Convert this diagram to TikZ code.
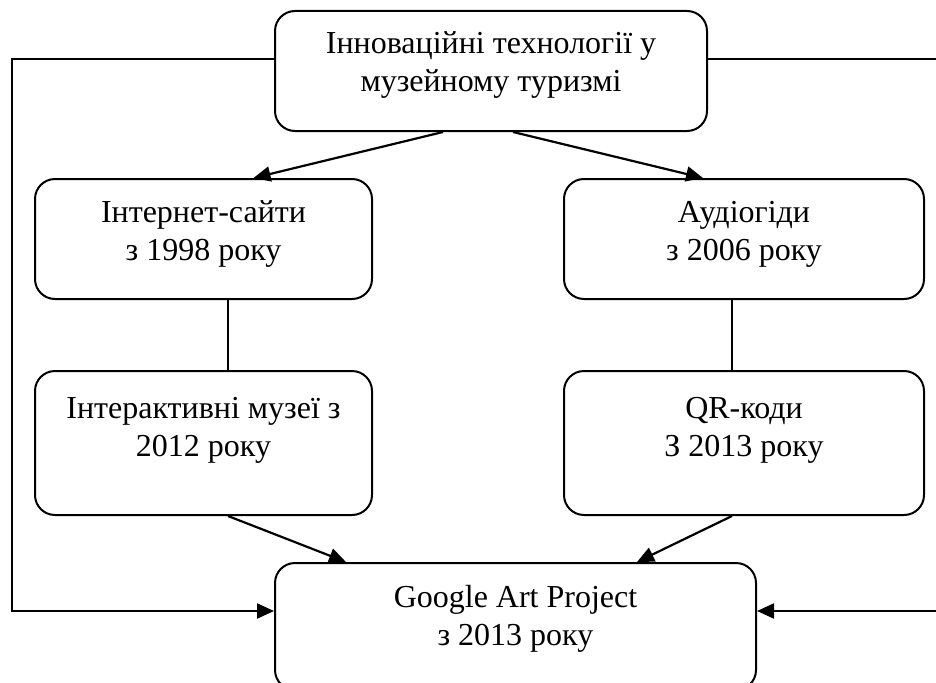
\documentclass[tikz,border=0pt]{standalone}
\usepackage{fontspec}
\setmainfont{Liberation Serif}
\usetikzlibrary{arrows.meta}
\begin{document}
\begin{tikzpicture}[x=1pt,y=-1pt,
  box/.style={draw,line width=2pt,rounded corners=20pt,inner sep=0pt,minimum width=#1},
  txt/.style={font=\fontsize{32}{38}\selectfont,align=center,anchor=base,inner sep=0pt},
  link/.style={line width=1.8pt},
  arr/.style={line width=2.2pt,-{Triangle[length=17pt,width=15pt]}}]
\useasboundingbox (0,0) rectangle (936,682);
\node[box=432pt,minimum height=120pt] (top) at (491,71) {};
\node[box=337pt,minimum height=120pt] (l1) at (203.5,239) {};
\node[box=360pt,minimum height=120pt] (r1) at (744,239) {};
\node[box=337pt,minimum height=144pt] (l2) at (203.5,443) {};
\node[box=360pt,minimum height=144pt] (r2) at (744,443) {};
\node[box=481pt,minimum height=127pt] (bot) at (515.5,626.5) {};
\node[txt] (ttop) at (491,92) {Інноваційні технології у\\музейному туризмі};
\node[txt] (tl1) at (203.5,260) {Інтернет-сайти\\з 1998 року};
\node[txt] (tr1) at (744,260) {Аудіогіди\\з 2006 року};
\node[txt] (tl2) at (203.5,456) {Інтерактивні музеї з\\2012 року};
\node[txt] (tr2) at (744,456) {QR-коди\\З 2013 року};
\node[txt] (tbot) at (515.5,645) {Google Art Project\\з 2013 року};
\coordinate (lc) at (12,611);
\coordinate (rc1) at (950,59);
\coordinate (rc2) at (950,611);
\draw[arr] ([xshift=-48pt]top.south) -- ([xshift=50pt]l1.north);
\draw[arr] ([xshift=22pt]top.south) -- ([xshift=-41pt]r1.north);
\draw[link] ([xshift=24.5pt]l1.south) -- ([xshift=24.5pt]l2.north);
\draw[link] ([xshift=-12pt]r1.south) -- ([xshift=-12pt]r2.north);
\draw[arr] ([xshift=24.5pt]l2.south) -- ([xshift=-169.5pt]bot.north);
\draw[arr] ([xshift=-12pt]r2.south) -- ([xshift=121.5pt]bot.north);
\draw[arr] ([yshift=12pt]top.west) -| (lc) -- ([yshift=15.5pt]bot.west);
\draw[arr] ([yshift=12pt]top.east) -- (rc1) -- (rc2) -- ([yshift=15.5pt]bot.east);
\end{tikzpicture}
\end{document}
